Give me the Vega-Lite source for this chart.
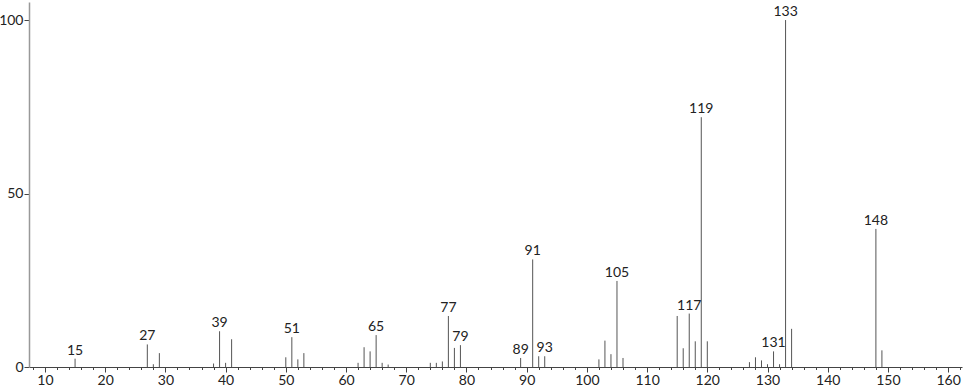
{
  "$schema": "https://vega.github.io/schema/vega-lite/v6.json",
  "autosize": "none",
  "padding": {"left": 29, "top": 2, "right": 4, "bottom": 22},
  "width": 933,
  "height": 365,
  "background": "white",
  "config": {"view": {"stroke": null}, "font": "Lato"},
  "data": {"values": [
    {"mz": 15, "intensity": 2.4, "label": "15"},
    {"mz": 27, "intensity": 6.5, "label": "27"},
    {"mz": 28, "intensity": 0.8, "label": ""},
    {"mz": 29, "intensity": 4.0, "label": ""},
    {"mz": 38, "intensity": 1.0, "label": ""},
    {"mz": 39, "intensity": 10.3, "label": "39"},
    {"mz": 40, "intensity": 1.2, "label": ""},
    {"mz": 41, "intensity": 8.0, "label": ""},
    {"mz": 50, "intensity": 2.8, "label": ""},
    {"mz": 51, "intensity": 8.6, "label": "51"},
    {"mz": 52, "intensity": 2.2, "label": ""},
    {"mz": 53, "intensity": 4.0, "label": ""},
    {"mz": 62, "intensity": 1.2, "label": ""},
    {"mz": 63, "intensity": 5.7, "label": ""},
    {"mz": 64, "intensity": 4.5, "label": ""},
    {"mz": 65, "intensity": 9.2, "label": "65"},
    {"mz": 66, "intensity": 1.2, "label": ""},
    {"mz": 67, "intensity": 0.7, "label": ""},
    {"mz": 74, "intensity": 1.2, "label": ""},
    {"mz": 75, "intensity": 1.2, "label": ""},
    {"mz": 76, "intensity": 1.6, "label": ""},
    {"mz": 77, "intensity": 14.7, "label": "77"},
    {"mz": 78, "intensity": 5.5, "label": ""},
    {"mz": 79, "intensity": 6.3, "label": "79"},
    {"mz": 89, "intensity": 2.6, "label": "89"},
    {"mz": 91, "intensity": 31.0, "label": "91"},
    {"mz": 92, "intensity": 3.1, "label": ""},
    {"mz": 93, "intensity": 3.1, "label": "93"},
    {"mz": 102, "intensity": 2.2, "label": ""},
    {"mz": 103, "intensity": 7.6, "label": ""},
    {"mz": 104, "intensity": 3.7, "label": ""},
    {"mz": 105, "intensity": 24.8, "label": "105"},
    {"mz": 106, "intensity": 2.6, "label": ""},
    {"mz": 115, "intensity": 14.7, "label": ""},
    {"mz": 116, "intensity": 5.4, "label": ""},
    {"mz": 117, "intensity": 15.4, "label": "117"},
    {"mz": 118, "intensity": 7.4, "label": ""},
    {"mz": 119, "intensity": 72.0, "label": "119"},
    {"mz": 120, "intensity": 7.4, "label": ""},
    {"mz": 127, "intensity": 1.4, "label": ""},
    {"mz": 128, "intensity": 2.8, "label": ""},
    {"mz": 129, "intensity": 1.9, "label": ""},
    {"mz": 130, "intensity": 0.8, "label": ""},
    {"mz": 131, "intensity": 4.5, "label": "131"},
    {"mz": 132, "intensity": 0.8, "label": ""},
    {"mz": 133, "intensity": 100, "label": "133"},
    {"mz": 134, "intensity": 11.0, "label": ""},
    {"mz": 148, "intensity": 39.8, "label": "148"},
    {"mz": 149, "intensity": 4.8, "label": ""}
  ]},
  "encoding": {
    "x": {
      "field": "mz", "type": "quantitative",
      "scale": {"domain": [7.35, 162.3], "nice": false, "zero": false},
      "axis": {
        "title": null,
        "values": [8,10,12,14,16,18,20,22,24,26,28,30,32,34,36,38,40,42,44,46,48,50,52,54,56,58,60,62,64,66,68,70,72,74,76,78,80,82,84,86,88,90,92,94,96,98,100,102,104,106,108,110,112,114,116,118,120,122,124,126,128,130,132,134,136,138,140,142,144,146,148,150,152,154,156,158,160,162],
        "labelExpr": "datum.value % 10 === 0 ? datum.label : ''",
        "tickSize": {"condition": {"test": "datum.value % 10 === 0", "value": 5}, "value": 2.5},
        "grid": false,
        "domainColor": "#444",
        "tickColor": "#444",
        "labelFont": "Lato",
        "labelFontSize": 14,
        "labelColor": "#222",
        "labelPadding": 1,
        "labelFlush": false
      }
    },
    "y": {
      "field": "intensity", "type": "quantitative",
      "scale": {"domain": [0, 105.2], "nice": false},
      "axis": {
        "title": null,
        "values": [0, 50, 100],
        "tickSize": 5,
        "grid": false,
        "domainColor": "#999",
        "domainWidth": 1.5,
        "tickColor": "#444",
        "labelFont": "Lato",
        "labelFontSize": 14,
        "labelColor": "#222",
        "labelPadding": 1
      }
    }
  },
  "layer": [
    {
      "mark": {"type": "rule", "color": "#555", "strokeWidth": 1},
      "encoding": {"y2": {"datum": 0}}
    },
    {
      "transform": [{"filter": "datum.label !== ''"}],
      "mark": {"type": "text", "baseline": "alphabetic", "dy": -4, "font": "Lato", "fontSize": 14, "color": "#222"},
      "encoding": {"text": {"field": "label"}}
    }
  ]
}
